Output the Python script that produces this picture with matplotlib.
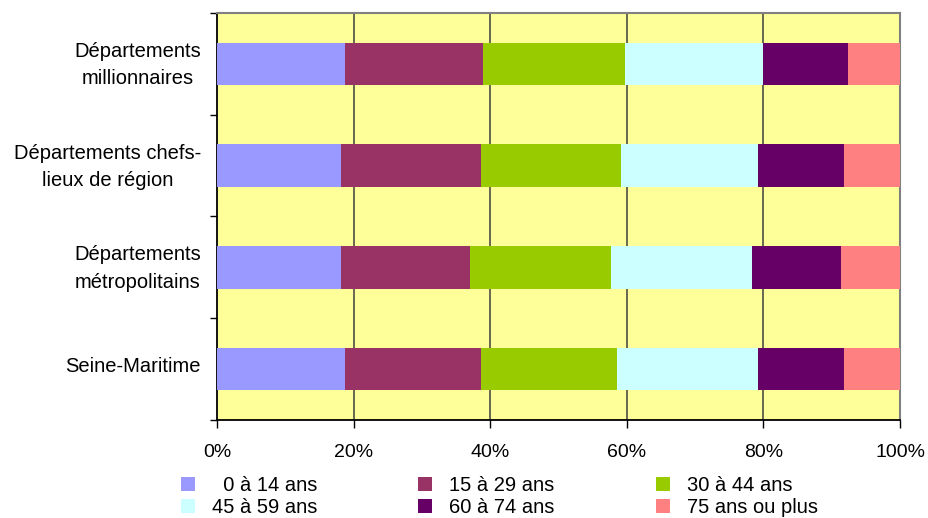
import matplotlib

matplotlib.use("Agg")
import matplotlib.pyplot as plt
import matplotlib.transforms as mtransforms
import numpy as np

plt.rcParams.update({
    "font.family": ["Liberation Sans", "DejaVu Sans"],
    "font.size": 14.5,
})

categories = [
    "Départements\nmillionnaires",
    "Départements chefs-\nlieux de région",
    "Départements\nmétropolitains",
    "Seine-Maritime",
]
age_groups = ["  0 à 14 ans", "15 à 29 ans", "30 à 44 ans",
              "45 à 59 ans", "60 à 74 ans", "75 ans ou plus"]
# shares (%) per age group, one value per category (top to bottom)
shares = [
    [18.8, 18.2, 18.2, 18.8],
    [20.2, 20.5, 18.8, 19.9],
    [20.7, 20.5, 20.7, 19.9],
    [20.2, 20.0, 20.6, 20.6],
    [12.5, 12.6, 13.0, 12.6],
    [7.6, 8.2, 8.7, 8.2],
]
colors = ["#9999FF", "#993366", "#99CC00", "#CCFFFF", "#660066", "#FF8080"]

fig = plt.figure(figsize=(9.29, 5.18), dpi=100)
ax = fig.add_axes([0.2336, 0.1892, 0.9688 - 0.2336, 0.9749 - 0.1892])
ax.set_facecolor("#FFFF99")

y = np.arange(len(categories))
left = np.zeros(len(categories))
handles = []
for vals, col, lab in zip(shares, colors, age_groups):
    vals = np.array(vals)
    h = ax.barh(y, vals, left=left, height=0.42, color=col, label=lab, zorder=3)
    handles.append(h)
    left += vals

ax.set_xlim(0, 100)
ax.set_ylim(len(categories) - 0.5, -0.5)

ax.set_xticks(np.arange(0, 101, 20))
ax.set_xticklabels([f"{v}%" for v in range(0, 101, 20)], fontsize=14)
ax.tick_params(axis="x", direction="out", length=6, width=1, pad=11)
for g in (20, 40, 60, 80):
    ax.axvline(g, color="#404040", lw=1.1, zorder=1)

ax.set_yticks(np.arange(-0.5, len(categories), 1.0))
ax.set_yticklabels([])
ax.set_yticks(y, minor=True)
ax.set_yticklabels(categories, minor=True, ha="right", multialignment="center",
                   linespacing=1.55)
ax.tick_params(axis="y", which="major", direction="out", length=5, width=1)
ax.tick_params(axis="y", which="minor", length=0, pad=11.5)
# nudge category labels up a little
shift = mtransforms.ScaledTranslation(0, 5 / 100, fig.dpi_scale_trans)
for lbl in ax.get_yticklabels(minor=True):
    lbl.set_transform(lbl.get_transform() + shift)

for s in ("left", "bottom"):
    ax.spines[s].set_color("black")
    ax.spines[s].set_linewidth(1.3)
for s in ("top", "right"):
    ax.spines[s].set_color("#808080")
    ax.spines[s].set_linewidth(1.5)

# one legend per column, entries read row by row
col_x = [181, 418, 656]
for c, x0 in enumerate(col_x):
    idx = [c, c + 3]
    fig.legend([handles[i] for i in idx], [age_groups[i] for i in idx],
               loc="upper left", bbox_to_anchor=(x0 / 929, 1 - 476 / 518),
               frameon=False, handlelength=0.7, handleheight=0.75,
               handletextpad=0.85, labelspacing=0.15,
               borderaxespad=0, borderpad=0)

fig.savefig("out.png", dpi=100)
